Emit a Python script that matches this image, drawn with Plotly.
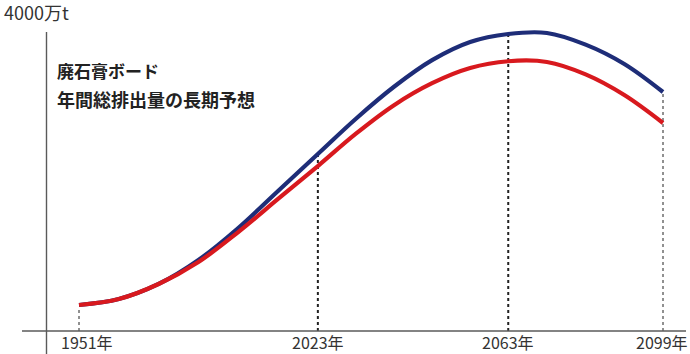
import numpy as np
import plotly.graph_objects as go

# ---- data ----
years = [1951, 1963, 1975, 1987, 1999, 2011, 2023, 2031, 2039, 2047, 2055,
         2063, 2072, 2081, 2090, 2099]
blue_vals = [348, 428, 629, 950, 1378, 1873, 2368, 2840, 3267, 3623, 3866,
             3973, 3987, 3831, 3572, 3197]
red_vals = [348, 428, 629, 923, 1324, 1766, 2207, 2640, 3021, 3315, 3518,
            3609, 3599, 3433, 3157, 2783]
tick_years = [1951, 2023, 2063, 2099]
tick_labels = ["1951年", "2023年", "2063年", "2099年"]
# schematic (non-linear) timeline: where each tick year sits along the axis (0..1)
tick_frac = [0.0, 0.409, 0.735, 1.0]
y_max_label = "4000万t"
y_top = 4000
title_lines = ["廃石膏ボード", "年間総排出量の長期予想"]

# ---- scale ----
def tx(y):
    return np.interp(y, tick_years, tick_frac)

W, H = 690, 354
px_x0, px_x1 = 79, 663      # tick 1951 / tick 2099
px_y0, px_ytop = 331, 32    # value 0 / value y_top
sx = (px_x1 - px_x0)
sy = (px_y0 - px_ytop) / y_top
xr = [-px_x0 / sx, (W - px_x0) / sx]
yr = [-(H - px_y0) / sy, px_y0 / sy]

def fx(px):
    return (px - px_x0) / sx

BLUE = "#1e2d78"
RED = "#d8191e"
AX = "#5a5a5a"
FONT = "Noto Sans CJK JP"

fig = go.Figure()

shapes = []
shapes.append(dict(type="line", xref="x", yref="y", x0=fx(22), x1=fx(686), y0=0, y1=0,
                   line=dict(color=AX, width=1.4)))
shapes.append(dict(type="line", xref="x", yref="y", x0=fx(46.5), x1=fx(46.5), y0=yr[0], y1=y_top,
                   line=dict(color=AX, width=1.4)))
for i, ty in enumerate(tick_years):
    top = float(np.interp(ty, years, blue_vals))
    inner = i in (1, 2)
    shapes.append(dict(type="line", xref="x", yref="y", x0=tx(ty), x1=tx(ty),
                       y0=0, y1=top - (50 if i == 0 else 0),
                       layer="below",
                       line=dict(color="#222222", width=2 if inner else 1, dash="dot")))

fig.add_trace(go.Scatter(x=tx(years), y=blue_vals, mode="lines",
                         line=dict(color=BLUE, width=4.2, shape="spline", smoothing=1.0),
                         hoverinfo="skip", showlegend=False))
fig.add_trace(go.Scatter(x=tx(years), y=red_vals, mode="lines",
                         line=dict(color=RED, width=4.2, shape="spline", smoothing=1.0),
                         hoverinfo="skip", showlegend=False))

annotations = []
for i, (ty, lab) in enumerate(zip(tick_years, tick_labels)):
    annotations.append(dict(x=tx(ty), y=yr[0], xref="x", yref="y", text=lab, showarrow=False,
                            xanchor="center", yanchor="bottom", yshift=-2,
                            xshift=8 if i == 0 else (-1 if i == 3 else 0),
                            font=dict(family=FONT, size=16, color="#333333")))
annotations.append(dict(x=0, y=1, xref="paper", yref="paper", text=y_max_label, showarrow=False,
                        xanchor="left", yanchor="middle", xshift=2, yshift=-12,
                        font=dict(family=FONT, size=18, color="#333333")))
for k, (line, sz) in enumerate(zip(title_lines, [17, 18])):
    annotations.append(dict(x=fx(55), y=1, xref="x", yref="paper",
                            text="<b>" + line + "</b>",
                            showarrow=False, xanchor="left", yanchor="middle", align="left",
                            yshift=-70 - 29 * k,
                            font=dict(family=FONT, size=sz, color="#222222")))

fig.update_layout(
    width=W, height=H,
    margin=dict(l=0, r=0, t=0, b=0),
    paper_bgcolor="white", plot_bgcolor="white",
    xaxis=dict(range=xr, visible=False, fixedrange=True),
    yaxis=dict(range=yr, visible=False, fixedrange=True),
    shapes=shapes, annotations=annotations,
)

fig.write_html("out.html")
